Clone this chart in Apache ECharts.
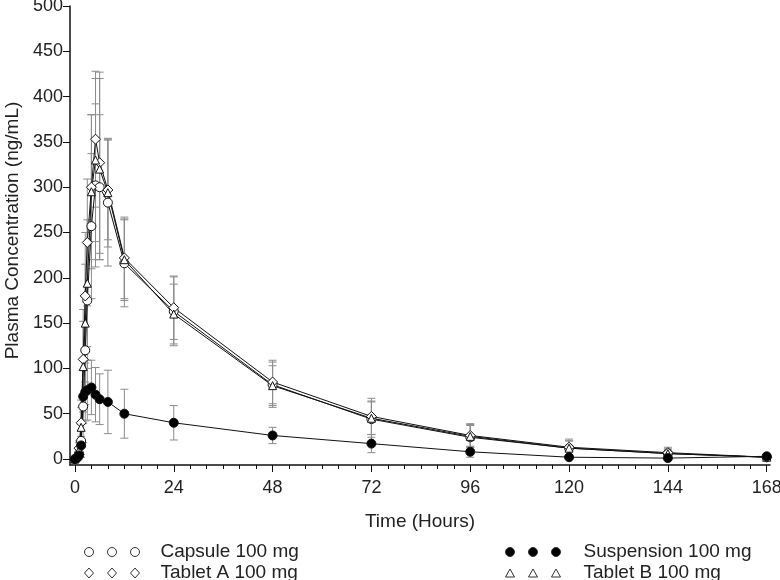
<!DOCTYPE html>
<html>
<head>
<meta charset="utf-8">
<script src="https://cdn.jsdelivr.net/npm/echarts@6/dist/echarts.min.js"></script>
<style>html,body{margin:0;padding:0;background:#fff}#c{width:780px;height:580px}</style>
</head>
<body>
<div id="c"></div>
<script>
// ---- data ----
const hours = [0, 0.5, 1, 1.5, 2, 2.5, 3, 4, 5, 6, 8, 12, 24, 48, 72, 96, 120, 144, 168];
const capsuleMean = [0, 2, 6, 20, 58, 120, 175, 257, 302, 300, 283, 216, 163, 82, 44, 24, 12, 6, 2];
const capsuleSD   = [0, 2, 6, 18, 40, 60, 75, 80, 90, 80, 70, 48, 38, 25, 20, 14, 8, 5, 2];
const tabletAMean = [0, 3, 12, 40, 110, 180, 239, 300, 353, 327, 297, 222, 167, 85, 47, 26, 13, 7, 2];
const tabletASD   = [0, 2, 8, 25, 55, 70, 70, 80, 75, 100, 55, 45, 35, 24, 20, 13, 9, 6, 2];
const tabletBMean = [0, 3, 10, 35, 102, 150, 194, 295, 330, 320, 294, 220, 160, 81, 45, 25, 12, 6, 2];
const tabletBSD   = [0, 2, 8, 22, 50, 65, 70, 85, 90, 100, 60, 45, 33, 22, 18, 12, 8, 5, 2];
const suspMean    = [0, 1, 4, 15, 69, 74, 76, 79, 71, 66, 63, 50, 40, 26, 17, 8, 2, 1, 3];
const suspSD      = [0, 1, 3, 10, 30, 32, 33, 30, 30, 28, 35, 27, 19, 9, 10, 6, 2, 1, 2];
const xMajorTicks = [0, 24, 48, 72, 96, 120, 144, 168];
const yTicks = [0, 50, 100, 150, 200, 250, 300, 350, 400, 450, 500];
const seriesNames = ['Capsule 100 mg', 'Tablet A 100 mg', 'Suspension 100 mg', 'Tablet B 100 mg'];

const FONT = '"Liberation Sans", Arial, sans-serif';
const xMinorTicks = [];
for (let h = 4; h < 168; h += 4) if (h % 24 !== 0) xMinorTicks.push(h);

function pairs(means) { return hours.map((h, i) => [h, means[i]]); }
function triples(means, sds) { return hours.map((h, i) => [h, means[i], sds[i]]); }

function errSeries(means, sds) {
  return {
    type: 'custom',
    xAxisIndex: 0, yAxisIndex: 0,
    z: 1,
    silent: true,
    encode: { x: 0, y: 1 },
    data: triples(means, sds),
    renderItem: function (params, api) {
      const x = api.value(0), m = api.value(1), s = api.value(2);
      if (!s) return null;
      const top = api.coord([x, m + s]);
      const bot = api.coord([x, m - s]);
      const w = 4;
      const st = { stroke: '#8c8c8c', lineWidth: 1 };
      return {
        type: 'group',
        children: [
          { type: 'line', shape: { x1: top[0], y1: top[1], x2: bot[0], y2: bot[1] }, style: st },
          { type: 'line', shape: { x1: top[0] - w, y1: top[1], x2: top[0] + w, y2: top[1] }, style: st },
          { type: 'line', shape: { x1: bot[0] - w, y1: bot[1], x2: bot[0] + w, y2: bot[1] }, style: st }
        ]
      };
    }
  };
}

function lineSeries(name, means, symbol, size, filled) {
  return {
    name: name,
    type: 'line',
    xAxisIndex: 0, yAxisIndex: 0,
    z: 3,
    data: pairs(means),
    symbol: symbol,
    symbolSize: size,
    showAllSymbol: true,
    lineStyle: { color: '#111', width: 1 },
    itemStyle: { color: filled ? '#000' : '#fff', borderColor: '#111', borderWidth: 1 },
    emphasis: { disabled: true },
    animation: false
  };
}

// legend icon paths (three marks each)
const circ3 = 'path://M0,4.5A4.5,4.5 0 1,1 9,4.5A4.5,4.5 0 1,1 0,4.5Z M23,4.5A4.5,4.5 0 1,1 32,4.5A4.5,4.5 0 1,1 23,4.5Z M46,4.5A4.5,4.5 0 1,1 55,4.5A4.5,4.5 0 1,1 46,4.5Z';
const diam3 = 'path://M4.5,0L9,5L4.5,10L0,5Z M27.5,0L32,5L27.5,10L23,5Z M50.5,0L55,5L50.5,10L46,5Z';
const tri3 = 'path://M4.5,1L9,9L0,9Z M27.5,1L32,9L23,9Z M50.5,1L55,9L46,9Z';

function legendAt(name, icon, left, cy, h, filled, gap) {
  return {
    data: [{ name: name, icon: icon }],
    left: left, top: cy - 9,
    padding: 0,
    itemWidth: 55, itemHeight: h,
    selectedMode: false,
    itemStyle: { color: filled ? '#000' : '#fff', borderColor: '#333', borderWidth: 1 },
    textStyle: { fontFamily: FONT, fontSize: 19, color: '#222', lineHeight: 20, padding: [0, 0, 0, gap] }
  };
}

const chart = echarts.init(document.getElementById('c'), null, { renderer: 'canvas' });
chart.setOption({
  animation: false,
  backgroundColor: '#fff',
  grid: { left: 70, right: 10, top: 6, bottom: 115, containLabel: false, outerBoundsMode: 'none' },
  legend: [
    legendAt(seriesNames[0], circ3, 84, 551, 9, false, 16),
    legendAt(seriesNames[1], diam3, 84, 572, 10, false, 16),
    legendAt(seriesNames[2], circ3, 505, 551, 9, true, 18),
    legendAt(seriesNames[3], tri3, 505, 572, 9, false, 18)
  ],
  xAxis: [
    {
      type: 'value', min: -1.2, max: 168.8, position: 'bottom',
      name: 'Time (Hours)', nameLocation: 'middle', nameGap: 47,
      nameTextStyle: { fontFamily: FONT, fontSize: 19, color: '#222' },
      axisLine: { show: true, onZero: false, lineStyle: { color: '#111', width: 1.5 } },
      axisTick: { show: true, length: 7, customValues: xMajorTicks, lineStyle: { color: '#111', width: 1 } },
      axisLabel: { customValues: xMajorTicks, margin: 14, fontFamily: FONT, fontSize: 18, color: '#222' },
      splitLine: { show: false }
    },
    {
      type: 'value', min: -1.2, max: 168.8, position: 'bottom',
      axisLine: { show: false, onZero: false },
      axisTick: { show: true, length: 4, customValues: xMinorTicks, lineStyle: { color: '#111', width: 1 } },
      axisLabel: { show: false },
      splitLine: { show: false }
    }
  ],
  yAxis: [
    {
      type: 'value', min: -6.6, max: 500,
      name: 'Plasma Concentration (ng/mL)', nameLocation: 'middle', nameGap: 46,
      nameTextStyle: { fontFamily: FONT, fontSize: 19, color: '#222', padding: [0, 0, 0, 10] },
      axisLine: { show: true, onZero: false, lineStyle: { color: '#111', width: 1.5 } },
      axisTick: { show: true, length: 7, customValues: yTicks, lineStyle: { color: '#111', width: 1 } },
      axisLabel: { customValues: yTicks, margin: 7, fontFamily: FONT, fontSize: 18, color: '#222' },
      splitLine: { show: false }
    }
  ],
  series: [
    errSeries(capsuleMean, capsuleSD),
    errSeries(tabletAMean, tabletASD),
    errSeries(tabletBMean, tabletBSD),
    errSeries(suspMean, suspSD),
    lineSeries(seriesNames[0], capsuleMean, 'circle', 9, false),
    lineSeries(seriesNames[1], tabletAMean, 'diamond', 10, false),
    lineSeries(seriesNames[3], tabletBMean, 'triangle', 8, false),
    lineSeries(seriesNames[2], suspMean, 'circle', 9, true)
  ]
});
</script>
</body>
</html>
